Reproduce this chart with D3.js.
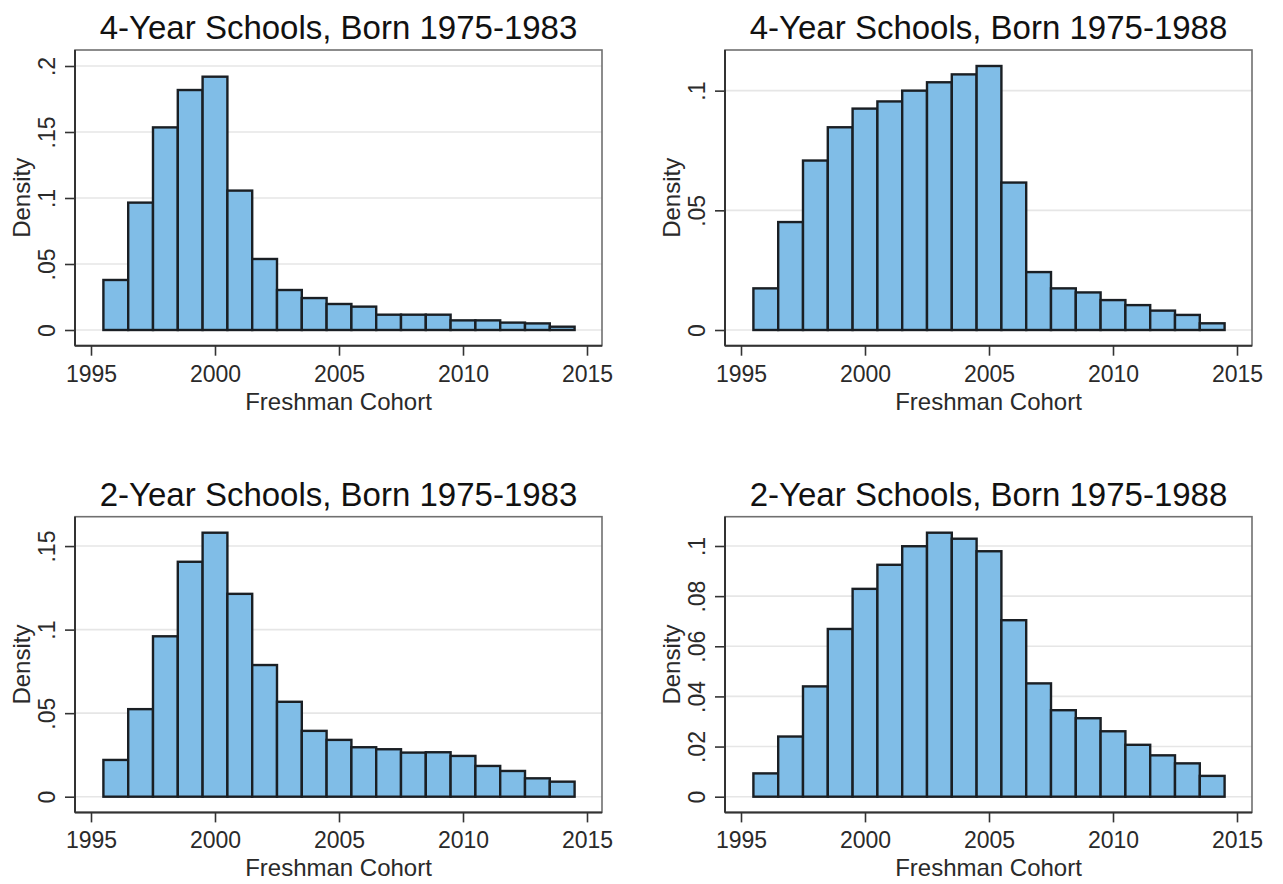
<!DOCTYPE html>
<html>
<head>
<meta charset="utf-8">
<script src="https://cdn.jsdelivr.net/npm/d3@7"></script>
<style>
  html, body { margin: 0; padding: 0; background: #ffffff; }
  svg { display: block; font-family: "Liberation Sans", Arial, Helvetica, sans-serif; }
</style>
</head>
<body>
<svg id="chart" width="1283" height="884"></svg>
<script>
// ---------------- data ----------------
const years = [1996, 1997, 1998, 1999, 2000, 2001, 2002, 2003, 2004, 2005,
               2006, 2007, 2008, 2009, 2010, 2011, 2012, 2013, 2014];

const fourYear7583 = [0.0379, 0.0965, 0.1535, 0.1818, 0.1919, 0.1056, 0.0538, 0.0303, 0.0242, 0.0197,
                      0.0177, 0.0116, 0.0116, 0.0116, 0.0073, 0.0073, 0.0056, 0.0050, 0.0025];
const fourYear7588 = [0.0174, 0.0451, 0.0708, 0.0847, 0.0925, 0.0955, 0.1000, 0.1035, 0.1068, 0.1103,
                      0.0616, 0.0242, 0.0174, 0.0157, 0.0125, 0.0104, 0.0081, 0.0063, 0.0028];
const twoYear7583  = [0.0220, 0.0524, 0.0960, 0.1406, 0.1580, 0.1214, 0.0788, 0.0568, 0.0394, 0.0340,
                      0.0296, 0.0284, 0.0264, 0.0266, 0.0244, 0.0184, 0.0154, 0.0110, 0.0090];
const twoYear7588  = [0.0093, 0.0240, 0.0440, 0.0669, 0.0829, 0.0925, 0.0999, 0.1053, 0.1029, 0.0979,
                      0.0704, 0.0452, 0.0345, 0.0313, 0.0261, 0.0207, 0.0165, 0.0133, 0.0083];

const titles = ["4-Year Schools, Born 1975-1983", "4-Year Schools, Born 1975-1988",
                "2-Year Schools, Born 1975-1983", "2-Year Schools, Born 1975-1988"];

const xTicks = [1995, 2000, 2005, 2010, 2015];

const yTicks1 = [0, 0.05, 0.10, 0.15, 0.20];
const yTickLabels1 = ["0", ".05", ".1", ".15", ".2"];
const yTicks2 = [0, 0.05, 0.10];
const yTickLabels2 = ["0", ".05", ".1"];
const yTicks3 = [0, 0.05, 0.10, 0.15];
const yTickLabels3 = ["0", ".05", ".1", ".15"];
const yTicks4 = [0, 0.02, 0.04, 0.06, 0.08, 0.10];
const yTickLabels4 = ["0", ".02", ".04", ".06", ".08", ".1"];

const xTitle = "Freshman Cohort";
const yTitle = "Density";

// ---------------- layout ----------------
const panels = [
  { title: titles[0], values: fourYear7583, ticks: yTicks1, labels: yTickLabels1, col: 0, row: 0 },
  { title: titles[1], values: fourYear7588, ticks: yTicks2, labels: yTickLabels2, col: 1, row: 0 },
  { title: titles[2], values: twoYear7583,  ticks: yTicks3, labels: yTickLabels3, col: 0, row: 1 },
  { title: titles[3], values: twoYear7588,  ticks: yTicks4, labels: yTickLabels4, col: 1, row: 1 }
];

const colStep = 650, rowStep = 466.7;
const frameLeft0 = 75, frameTop0 = 50;
const frameW = 527, frameH = 295.7;

const barFill = "#80bde7";
const barStroke = "#1a1f24";

const svg = d3.select("#chart");

panels.forEach(p => {
  const fl = frameLeft0 + p.col * colStep;
  const ft = frameTop0 + p.row * rowStep;
  const fr = fl + frameW;
  const fb = ft + frameH;

  const x = d3.scaleLinear().domain([1995, 2015]).range([fl + 16, fl + 512]);
  const yMax = Math.max(d3.max(p.values), p.ticks[p.ticks.length - 1]);
  const y = d3.scaleLinear().domain([0, yMax]).range([ft + 280, ft + 16]);

  const g = svg.append("g");

  // gridlines
  g.append("g").selectAll("line").data(p.ticks).join("line")
    .attr("x1", fl).attr("x2", fr)
    .attr("y1", d => y(d)).attr("y2", d => y(d))
    .attr("stroke", "#e6e6e6").attr("stroke-width", 1.6);

  // frame
  g.append("rect")
    .attr("x", fl).attr("y", ft).attr("width", frameW).attr("height", frameH)
    .attr("fill", "none").attr("stroke", "#707070").attr("stroke-width", 1.6);

  // bars
  g.append("g").selectAll("rect").data(years.map((yr, i) => ({ yr, v: p.values[i] }))).join("rect")
    .attr("x", d => x(d.yr - 0.5))
    .attr("width", d => x(d.yr + 0.5) - x(d.yr - 0.5))
    .attr("y", d => y(d.v))
    .attr("height", d => y(0) - y(d.v))
    .attr("fill", barFill)
    .attr("stroke", barStroke)
    .attr("stroke-width", 2.4);

  // x axis
  const xAxis = d3.axisBottom(x).tickValues(xTicks).tickFormat(d3.format("d"))
    .tickSize(10).tickPadding(6);
  const gx = g.append("g").attr("transform", `translate(0,${fb})`).call(xAxis);
  gx.select(".domain").attr("d", `M${fl},0H${fr}`).attr("stroke", "#333").attr("stroke-width", 2);
  gx.selectAll(".tick line").attr("stroke", "#333").attr("stroke-width", 1.6);
  gx.selectAll(".tick text")
    .attr("font-size", 23).attr("fill", "#2a2a2a")
    .attr("font-family", "'Liberation Sans', Arial, sans-serif")
    .attr("dy", null).attr("y", 36);

  // y axis
  const yAxis = d3.axisLeft(y).tickValues(p.ticks).tickFormat((d, i) => p.labels[i])
    .tickSize(10).tickPadding(10);
  const gy = g.append("g").attr("transform", `translate(${fl},0)`).call(yAxis);
  gy.select(".domain").attr("d", `M0,${ft}V${fb}`).attr("stroke", "#333").attr("stroke-width", 2);
  gy.selectAll(".tick line").attr("stroke", "#333").attr("stroke-width", 1.6);
  gy.selectAll(".tick text")
    .attr("font-size", 23).attr("fill", "#2a2a2a")
    .attr("font-family", "'Liberation Sans', Arial, sans-serif")
    .attr("x", null).attr("dy", null)
    .attr("text-anchor", "middle")
    .attr("transform", "translate(-20,0) rotate(-90)");

  // axis titles
  g.append("text")
    .attr("x", (fl + fr) / 2).attr("y", fb + 64)
    .attr("text-anchor", "middle").attr("font-size", 24).attr("fill", "#2a2a2a")
    .text(xTitle);

  g.append("text")
    .attr("transform", `translate(${fl - 45},${(ft + fb) / 2}) rotate(-90)`)
    .attr("text-anchor", "middle").attr("font-size", 24).attr("fill", "#2a2a2a")
    .text(yTitle);

  // panel title
  g.append("text")
    .attr("x", (fl + fr) / 2).attr("y", ft - 11)
    .attr("text-anchor", "middle").attr("font-size", 33).attr("fill", "#111")
    .text(p.title);
});
</script>
</body>
</html>
